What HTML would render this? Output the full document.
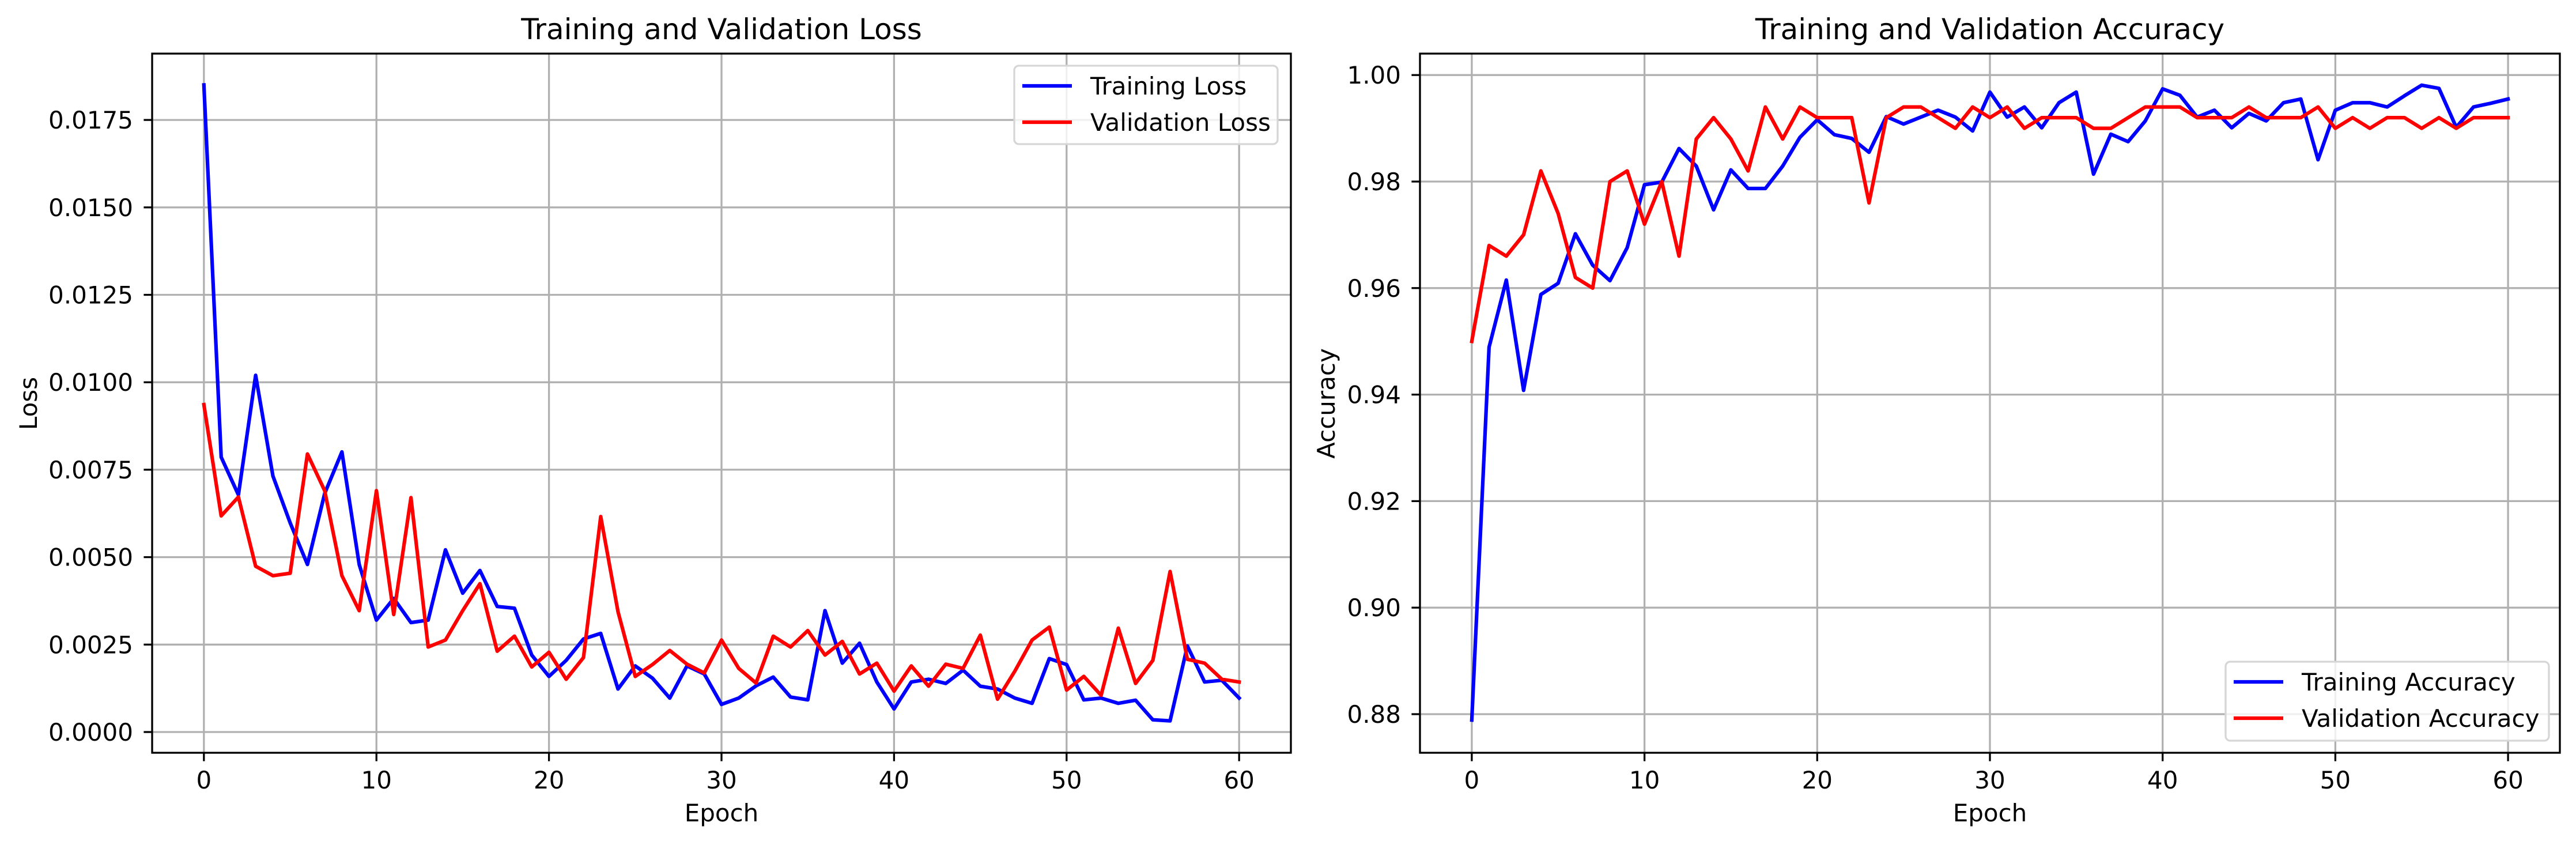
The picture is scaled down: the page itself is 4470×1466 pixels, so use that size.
<!DOCTYPE html>
<html><head><meta charset="utf-8"><style>
html,body{margin:0;padding:0;background:#fff;}
svg{display:block;font-family:"DejaVu Sans","Liberation Sans",sans-serif;}
</style></head><body>
<svg id="fig" width="4470" height="1466" viewBox="0 0 4470 1466" xmlns="http://www.w3.org/2000/svg"></svg>
<script>
const epochs = Array.from({length:61},(_,i)=>i);
const trainLoss = [0.0185,0.00786,0.00678,0.0102,0.00732,0.00598,0.00479,0.00682,0.00801,0.00479,0.0032,0.00382,0.00313,0.0032,0.00521,0.00397,0.00462,0.00359,0.00354,0.0022,0.00159,0.00205,0.00266,0.00282,0.00123,0.00189,0.00154,0.00097,0.00189,0.00166,0.00079,0.00097,0.00132,0.00157,0.001,0.00092,0.00347,0.00197,0.00254,0.00143,0.00066,0.00143,0.00151,0.00139,0.00177,0.00131,0.00123,0.00097,0.00082,0.0021,0.00193,0.00092,0.00097,0.00082,0.00091,0.00035,0.00032,0.00246,0.00143,0.00148,0.00097];
const valLoss = [0.00936,0.00618,0.00672,0.00474,0.00447,0.00454,0.00795,0.0069,0.00447,0.00347,0.0069,0.00336,0.0067,0.00243,0.00263,0.00347,0.00424,0.00231,0.00274,0.00186,0.00228,0.00151,0.00213,0.00616,0.00344,0.00159,0.00193,0.00233,0.00194,0.00169,0.00263,0.00182,0.0014,0.00274,0.00243,0.0029,0.0022,0.00259,0.00166,0.00197,0.00117,0.00189,0.00131,0.00194,0.00182,0.00277,0.00094,0.00174,0.00263,0.003,0.0012,0.00159,0.00105,0.00297,0.00139,0.00205,0.00459,0.00208,0.00197,0.00151,0.00143];
const trainAcc = [0.8789,0.9489,0.9615,0.9408,0.9588,0.9609,0.9702,0.9643,0.9614,0.9676,0.9794,0.9799,0.9862,0.9829,0.9747,0.9822,0.9787,0.9787,0.9829,0.9883,0.9916,0.9888,0.9881,0.9855,0.9922,0.9908,0.9921,0.9934,0.9921,0.9895,0.9968,0.9921,0.994,0.9901,0.9948,0.9968,0.9814,0.9889,0.9875,0.9914,0.9974,0.9962,0.9921,0.9934,0.9901,0.9928,0.9914,0.9948,0.9955,0.9841,0.9934,0.9948,0.9948,0.994,0.9961,0.9981,0.9975,0.9902,0.994,0.9947,0.9955];
const valAcc = [0.950,0.968,0.966,0.970,0.982,0.974,0.962,0.960,0.980,0.982,0.972,0.980,0.966,0.988,0.992,0.988,0.982,0.994,0.988,0.994,0.992,0.992,0.992,0.976,0.992,0.994,0.994,0.992,0.990,0.994,0.992,0.994,0.990,0.992,0.992,0.992,0.990,0.990,0.992,0.994,0.994,0.994,0.992,0.992,0.992,0.994,0.992,0.992,0.992,0.994,0.990,0.992,0.990,0.992,0.992,0.990,0.992,0.990,0.992,0.992,0.992];
const xTicks = [0,10,20,30,40,50,60];
const lossTicks = [0,0.0025,0.005,0.0075,0.01,0.0125,0.015,0.0175];
const lossTickLabels = ["0.0000","0.0025","0.0050","0.0075","0.0100","0.0125","0.0150","0.0175"];
const accTicks = [0.88,0.90,0.92,0.94,0.96,0.98,1.00];
const accTickLabels = ["0.88","0.90","0.92","0.94","0.96","0.98","1.00"];

const NS="http://www.w3.org/2000/svg";
const svg=document.getElementById('fig');
function mk(tag,attrs,parent){const e=document.createElementNS(NS,tag);for(const k in attrs)e.setAttribute(k,attrs[k]);(parent||svg).appendChild(e);return e;}

function panel(cfg){
  const g=mk('g',{});
  
  
  const L=cfg.left,R=cfg.right,T=93,B=1306;
  const xs=v=>L+(v+3)*(R-L)/66;
  const ys=v=>cfg.y0px-(v-cfg.y0)*cfg.ppu;
  // grid
  xTicks.forEach(t=>{const l=mk('line',{x1:xs(t),x2:xs(t),y1:T,y2:B,stroke:'#b0b0b0','stroke-width':3.3},g);
    
    });
  cfg.ticks.forEach(t=>{const l=mk('line',{x1:L,x2:R,y1:ys(t),y2:ys(t),stroke:'#b0b0b0','stroke-width':3.3},g);
    
    });
  // series
  const clip=mk('clipPath',{id:cfg.name+'-clip'},g);mk('rect',{x:L,y:T,width:R-L,height:B-T},clip);
  cfg.series.forEach(s=>{
    const d=s.data.map((v,i)=>(i?'L':'M')+xs(epochs[i]).toFixed(1)+' '+ys(v).toFixed(1)).join(' ');
    const p=mk('path',{d:d,fill:'none',stroke:s.color,'stroke-width':6.25,'stroke-linejoin':'round','stroke-linecap':'square','clip-path':'url(#'+cfg.name+'-clip)'},g);
    
    
  });
  // spines
  const sp=mk('rect',{x:L,y:T,width:R-L,height:B-T,fill:'none',stroke:'#000','stroke-width':3.3},g);
  
  
  // x ticks
  xTicks.forEach(t=>{mk('line',{x1:xs(t),x2:xs(t),y1:B,y2:B+14.6,stroke:'#000','stroke-width':3.3},g);
    const tx=mk('text',{x:xs(t),y:1368,'font-size':42,'text-anchor':'middle',fill:'#000'},g);tx.textContent=t;
    
    });
  cfg.ticks.forEach((t,i)=>{mk('line',{x1:L-14.6,x2:L,y1:ys(t),y2:ys(t),stroke:'#000','stroke-width':3.3},g);
    const tx=mk('text',{x:L-33,y:ys(t)+15,'font-size':42,'text-anchor':'end',fill:'#000'},g);tx.textContent=cfg.labels[i];
    
    });
  const xl=mk('text',{x:(L+R)/2,y:1425,'font-size':42,'text-anchor':'middle'},g);xl.textContent='Epoch';
  
  
  const yl=mk('text',{x:cfg.ylx,y:700,'font-size':42,'text-anchor':'middle',transform:'rotate(-90 '+cfg.ylx+' 700)'},g);yl.textContent=cfg.ylabel;
  
  
  const ti=mk('text',{x:(L+R)/2,y:68,'font-size':50,'text-anchor':'middle'},g);ti.textContent=cfg.title;
  
  
  // legend
  const lg=mk('g',{},g);
  
  
  const lb=cfg.legend;
  mk('rect',{x:lb.x,y:lb.y,width:lb.w,height:lb.h,rx:8,fill:'#fff','fill-opacity':0.8,stroke:'#d6d6d6','stroke-width':3.3},lg);
  cfg.series.forEach((s,i)=>{
    const yy=lb.y+35+i*63;
    mk('line',{x1:lb.x+14,x2:lb.x+100,y1:yy,y2:yy,stroke:s.color,'stroke-width':6.25},lg);
    const t=mk('text',{x:lb.x+132,y:yy+15,'font-size':42},lg);t.textContent=s.label;
    
    
  });
}
panel({name:'loss-chart',left:264,right:2240,y0:0,y0px:1270,ppu:151.7/0.0025,ticks:lossTicks,labels:lossTickLabels,
  ylabel:'Loss',ylx:64,title:'Training and Validation Loss',
  legend:{x:1760,y:114,w:457,h:136},
  series:[{id:'training-loss-line',data:trainLoss,color:'#0000ff',label:'Training Loss'},{id:'validation-loss-line',data:valLoss,color:'#ff0000',label:'Validation Loss'}]});
panel({name:'accuracy-chart',left:2464,right:4442,y0:0.88,y0px:1239,ppu:184.8/0.02,ticks:accTicks,labels:accTickLabels,
  ylabel:'Accuracy',ylx:2316,title:'Training and Validation Accuracy',
  legend:{x:3862,y:1148,w:561,h:137},
  series:[{id:'training-accuracy-line',data:trainAcc,color:'#0000ff',label:'Training Accuracy'},{id:'validation-accuracy-line',data:valAcc,color:'#ff0000',label:'Validation Accuracy'}]});
</script>
</body></html>
